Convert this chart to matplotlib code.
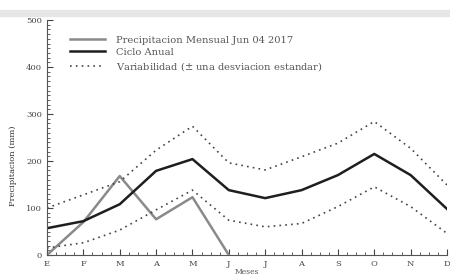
import numpy as np
import matplotlib.pyplot as plt
from matplotlib.patches import Rectangle
from matplotlib.ticker import MultipleLocator

meses = ["E", "F", "M", "A", "M", "J", "J", "A", "S", "O", "N", "D"]
ciclo = [57, 72, 108, 179, 204, 138, 121, 138, 170, 215, 170, 98]
var_sup = [100, 128, 156, 223, 274, 196, 181, 209, 238, 284, 227, 149]
var_inf = [15, 26, 53, 96, 138, 74, 60, 67, 103, 145, 103, 46]
precip = [0, 70, 168, 76, 123, 0]

plt.rcParams['font.family'] = ['DejaVu Serif']
fig = plt.figure(figsize=(4.5, 2.78), dpi=100)
fig.patches.append(Rectangle((0, 1 - 16/278), 1, 6/278, transform=fig.transFigure,
                             color='#e6e6e6', zorder=0))
ax = fig.add_axes([47/450, 1 - 255/278, 400/450, 235/278])
x = np.arange(len(meses))

ax.plot(x[:len(precip)], precip, color='#8a8a8a', lw=1.8, label='Precipitacion Mensual Jun 04 2017')
ax.plot(x, ciclo, color='#1e1e1e', lw=1.8, label='Ciclo Anual')
ax.plot(x, var_sup, color='#444444', lw=1.2, ls=(0, (1, 2.5)),
        label='Variabilidad ($\\pm$ una desviacion estandar)')
ax.plot(x, var_inf, color='#444444', lw=1.2, ls=(0, (1, 2.5)))

ax.set_xlim(0, 11)
ax.set_ylim(0, 500)
ax.set_xticks(x)
ax.set_xticklabels(meses)
ax.yaxis.set_major_locator(MultipleLocator(100))
ax.yaxis.set_minor_locator(MultipleLocator(10))
ax.xaxis.set_minor_locator(MultipleLocator(0.25))
ax.tick_params(which='both', direction='in', labelsize=6, colors='#444444')
ax.tick_params(which='major', length=4)
ax.tick_params(which='minor', length=2)
for s in ['top', 'right']:
    ax.spines[s].set_visible(False)
for s in ['left', 'bottom']:
    ax.spines[s].set_color('#555555')

ax.set_xlabel('Meses', fontsize=5.5, labelpad=0, color='#555555')
ax.set_ylabel('Precipitacion (mm)', fontsize=6, color='#333333', labelpad=6)
ax.yaxis.set_label_coords(-0.075, 0.38)

ax.legend(loc='upper left', bbox_to_anchor=(0.035, 0.97), frameon=False, fontsize=7.1,
          handlelength=3.6, labelspacing=0.3, handletextpad=1.1, labelcolor='#555555')

fig.savefig('out.png', dpi=100)
